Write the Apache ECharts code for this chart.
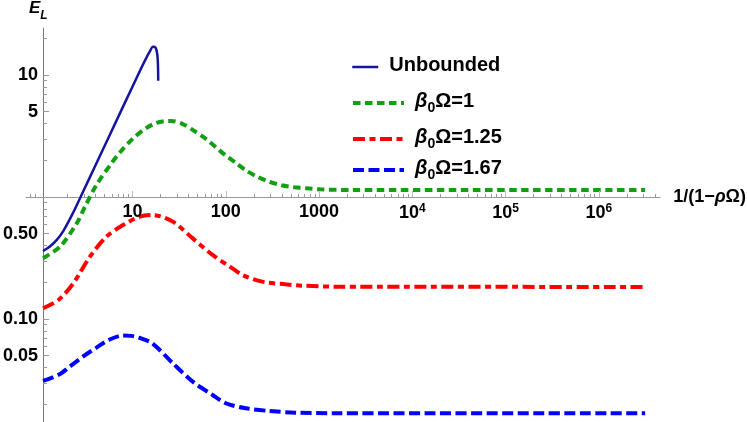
<!DOCTYPE html>
<html>
<head>
<meta charset="utf-8">
<script src="https://cdn.jsdelivr.net/npm/echarts@6/dist/echarts.min.js"></script>
<style>
  html, body { margin: 0; padding: 0; background: #fff; }
  #chart { width: 747px; height: 422px; }
</style>
</head>
<body>
<div id="chart"></div>
<script>
// values: x = 1/(1-ρΩ), y = E_L
const unboundedX = [1, 1.194, 1.413, 1.656, 2.07, 2.535, 3.98, 6.31, 10.0, 12.59, 14.13, 15.2, 16.22, 16.9, 17.22, 17.34];
const unboundedY = [0.361, 0.394, 0.447, 0.528, 0.723, 1.0, 2.08, 4.39, 9.25, 13.3, 15.67, 17.06, 16.79, 14.96, 12.16, 8.97];

const beta1X = [1, 1.528, 2.301, 2.825, 3.758, 5.445, 6.699, 9.29, 12.88, 16.48, 19.95, 23.88, 31.84, 42.46, 55.59, 71.12, 90.99, 118.3, 153.8, 201.8, 269.2, 367.3, 505.8, 691.8, 959.4, 2089, 3.0e6];
const beta1Y = [0.315, 0.392, 0.608, 0.832, 1.259, 1.888, 2.317, 3.02, 3.673, 4.046, 4.188, 4.207, 3.963, 3.475, 3.027, 2.582, 2.208, 1.91, 1.644, 1.466, 1.334, 1.247, 1.201, 1.178, 1.156, 1.14, 1.14];

const beta125X = [1, 1.466, 2.118, 3.199, 4.808, 7.261, 10.96, 15.2, 24.89, 40.74, 66.68, 108.9, 139.3, 228, 404.6, 610.9, 1380, 3.0e6];
const beta125Y = [0.1225, 0.1432, 0.1963, 0.3243, 0.4732, 0.5888, 0.6902, 0.7112, 0.6281, 0.4581, 0.335, 0.26, 0.2296, 0.2023, 0.1923, 0.1875, 0.1841, 0.1832];

const beta167X = [1, 1.489, 1.982, 2.754, 3.758, 5.14, 7.261, 8.913, 10.76, 14.93, 24.89, 40.74, 66.68, 92.47, 151.4, 269.2, 517.6, 1380, 3.0e6];
const beta167Y = [0.03105, 0.03499, 0.04121, 0.04977, 0.05821, 0.0675, 0.0731, 0.0727, 0.0702, 0.06324, 0.04335, 0.03062, 0.02382, 0.02037, 0.01854, 0.01762, 0.01706, 0.01687, 0.01687];

const seriesNames = ['Unbounded', 'β₀Ω=1', 'β₀Ω=1.25', 'β₀Ω=1.67'];

const yLabelValues = [0.05, 0.1, 0.5, 5, 10];
const yMinorTicks = [0.02, 0.03, 0.04, 0.06, 0.07, 0.08, 0.09, 0.2, 0.3, 0.4, 0.6, 0.7, 0.8, 0.9, 2, 3, 4, 6, 7, 8, 9, 20];
const xLabelValues = [10, 100, 1000, 1e4, 1e5, 1e6];
const xMinorTicks = [];
for (let e = -1; e <= 6; e++) {
  for (let m = 2; m <= 9; m++) {
    const v = m * Math.pow(10, e);
    if (v >= 0.72 && v <= 4.55e6) xMinorTicks.push(v);
  }
}

const FONT = '"Liberation Sans", Arial, sans-serif';
const pairs = (xs, ys) => xs.map((x, i) => [x, ys[i]]);

const chart = echarts.init(document.getElementById('chart'));

const legendText = {
  fontFamily: FONT, fontSize: 20, fontWeight: 'bold', color: '#000',
  rich: {
    sp: { width: 6 },
    m: { fontFamily: FONT, fontSize: 20, fontWeight: 'bold', color: '#000', padding: [0, 0, 4, 0], verticalAlign: 'bottom' },
    g: { fontFamily: FONT, fontSize: 20, fontWeight: 'bold', fontStyle: 'italic', color: '#000', padding: [0, 0, 4, 0], verticalAlign: 'bottom' },
    s: { fontFamily: FONT, fontSize: 14, fontWeight: 'bold', color: '#000', verticalAlign: 'bottom' }
  }
};
const legendFmt = name => {
  if (name === 'Unbounded') return '{sp| }{m|Unbounded}';
  return '{sp| }{g|β}{s|0}{m|' + name.replace('β₀', '') + '}';
};
const legendAt = (name, top, w, lw) => ({
  data: [name], left: 351, top: top, padding: 0,
  itemWidth: w, itemHeight: 14,
  itemStyle: { opacity: 0 },
  lineStyle: { width: lw },
  formatter: legendFmt, textStyle: legendText,
  selectedMode: false
});

const option = {
  animation: false,
  title: {
    text: '{e|E}{l|L}', left: 29, top: 0, padding: 0,
    textStyle: {
      rich: {
        e: { fontFamily: FONT, fontSize: 17, fontWeight: 'bold', fontStyle: 'italic', color: '#000', padding: [0, 0, 5, 0], verticalAlign: 'bottom' },
        l: { fontFamily: FONT, fontSize: 12, fontWeight: 'bold', fontStyle: 'italic', color: '#000', verticalAlign: 'bottom' }
      }
    }
  },
  legend: [
    legendAt(seriesNames[0], 55, 26, 2.5),
    legendAt(seriesNames[1], 91, 51, 4),
    legendAt(seriesNames[2], 127, 51, 4),
    legendAt(seriesNames[3], 158, 51, 4)
  ],
  grid: [
    { left: 39.5, right: 85, top: 28, bottom: 0 },
    { left: 26, right: 85, top: 28, height: 169 }
  ],
  xAxis: [
    { gridIndex: 0, type: 'log', min: 1, max: 4.55e6, show: false },
    {
      gridIndex: 1, type: 'log', min: 0.72, max: 4.55e6, position: 'bottom',
      axisLine: { show: true, onZero: false, lineStyle: { color: '#999', width: 1 } },
      axisTick: { show: true, inside: true, length: 3, customValues: xMinorTicks, lineStyle: { color: '#999' } },
      axisLabel: { show: false },
      splitLine: { show: false },
      name: '{n|1/(1−}{i|ρ}{n|Ω)}', nameLocation: 'end', nameGap: 13,
      nameTextStyle: {
        rich: {
          n: { fontFamily: FONT, fontSize: 18, fontWeight: 'bold', color: '#000' },
          i: { fontFamily: FONT, fontSize: 18, fontWeight: 'bold', fontStyle: 'italic', color: '#000' }
        }
      }
    },
    {
      gridIndex: 1, type: 'log', min: 0.72, max: 4.55e6, position: 'bottom', z: 5,
      axisLine: { show: false, onZero: false },
      axisTick: { show: true, inside: true, length: 6, customValues: xLabelValues, lineStyle: { color: '#bbb' } },
      axisLabel: {
        customValues: xLabelValues, margin: 6,
        fontFamily: FONT, fontSize: 18, fontWeight: 'bold', color: '#000',
        formatter: v => v < 1e4 ? String(Math.round(v)) : '{b|10}{p|' + Math.round(Math.log10(v)) + '}',
        rich: {
          b: { fontFamily: FONT, fontSize: 18, fontWeight: 'bold', color: '#000', verticalAlign: 'bottom' },
          p: { fontFamily: FONT, fontSize: 12, fontWeight: 'bold', color: '#000', padding: [0, 0, 7, 0], verticalAlign: 'bottom' }
        }
      },
      splitLine: { show: false }
    }
  ],
  yAxis: [
    {
      gridIndex: 0, type: 'log', min: 0.0143, max: 24.3, position: 'left',
      axisLine: { show: true, onZero: false, lineStyle: { color: '#777', width: 1 } },
      axisTick: { show: true, inside: true, length: 6, customValues: yLabelValues, lineStyle: { color: '#999' } },
      axisLabel: {
        customValues: yLabelValues, margin: 5,
        fontFamily: FONT, fontSize: 18, fontWeight: 'bold', color: '#000',
        formatter: v => v < 1 ? v.toFixed(2) : String(Math.round(v))
      },
      splitLine: { show: false }
    },
    {
      gridIndex: 0, type: 'log', min: 0.0143, max: 24.3, position: 'left',
      axisLine: { show: false, onZero: false },
      axisTick: { show: true, inside: true, length: 4, customValues: yMinorTicks, lineStyle: { color: '#999' } },
      axisLabel: { show: false },
      splitLine: { show: false }
    },
    { gridIndex: 1, type: 'log', min: 1, max: 24.3, show: false }
  ],
  series: [
    {
      name: seriesNames[0], type: 'line', xAxisIndex: 0, yAxisIndex: 0,
      data: pairs(unboundedX, unboundedY), symbol: 'none', smooth: 0.3, z: 4,
      itemStyle: { color: '#1414a0' },
      lineStyle: { color: '#1414a0', width: 2.5 }
    },
    {
      name: seriesNames[1], type: 'line', xAxisIndex: 0, yAxisIndex: 0,
      data: pairs(beta1X, beta1Y), symbol: 'none', smooth: 0.3,
      itemStyle: { color: '#12a012' },
      lineStyle: { color: '#12a012', width: 4, type: [7.5, 4.5] }
    },
    {
      name: seriesNames[2], type: 'line', xAxisIndex: 0, yAxisIndex: 0,
      data: pairs(beta125X, beta125Y), symbol: 'none', smooth: 0.3,
      itemStyle: { color: '#ff0000' },
      lineStyle: { color: '#ff0000', width: 4, type: [12, 4.5, 6, 4.5] }
    },
    {
      name: seriesNames[3], type: 'line', xAxisIndex: 0, yAxisIndex: 0,
      data: pairs(beta167X, beta167Y), symbol: 'none', smooth: 0.3,
      itemStyle: { color: '#0000ff' },
      lineStyle: { color: '#0000ff', width: 4, type: [11, 4.5] }
    }
  ]
};

chart.setOption(option);
</script>
</body>
</html>
